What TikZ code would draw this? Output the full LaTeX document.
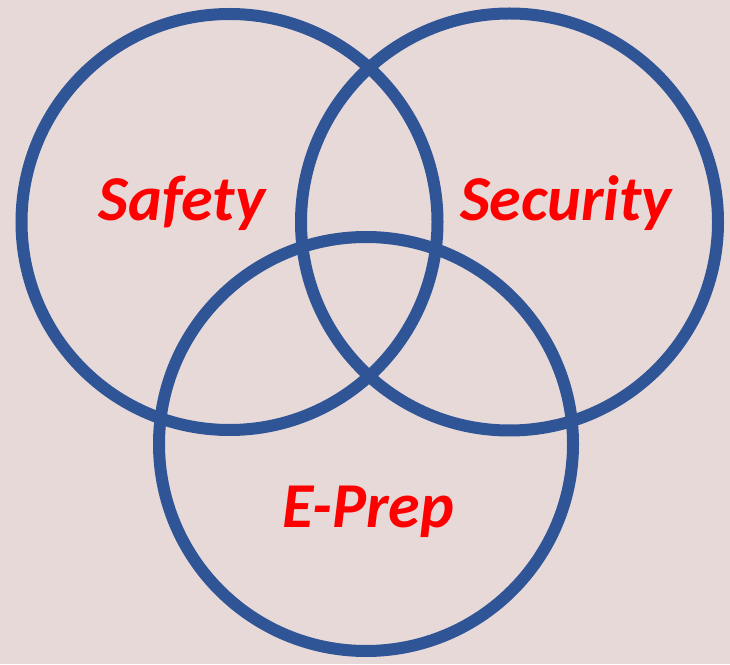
\documentclass[tikz,border=0pt]{standalone}
\usepackage{fontspec}
\setmainfont{Carlito}
\definecolor{bg}{HTML}{E8D9D9}
\definecolor{ringblue}{HTML}{2F5597}
\definecolor{lbl}{HTML}{FF0000}
\begin{document}
\begin{tikzpicture}[x=1pt,y=1pt,
  ring/.style={draw=ringblue,line width=12pt},
  lab/.style={text=lbl,font=\fontsize{64}{77}\selectfont\bfseries\itshape,anchor=base,inner sep=0pt}]
\fill[bg] (0,0) rectangle (730,664);
\useasboundingbox (0,0) rectangle (730,664);
\draw[ring] (229.5,442) circle[radius=208];
\draw[ring] (509.5,442) circle[radius=208.5];
\draw[ring] (366,220) circle[radius=207];
\node[lab] (safety) at (182,443) {Safety};
\node[lab] (security) at (566,443) {Security};
\node[lab] (eprep) at (368,137) {E-Prep};
\end{tikzpicture}
\end{document}
